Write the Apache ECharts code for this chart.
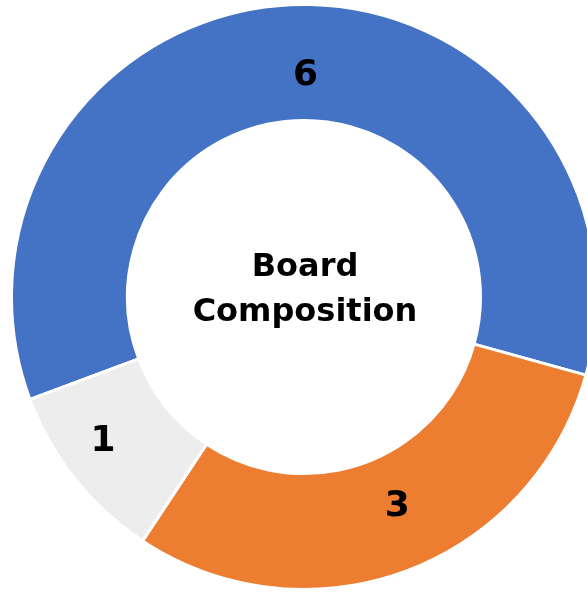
<!DOCTYPE html>
<html>
<head>
<meta charset="utf-8">
<script src="https://cdn.jsdelivr.net/npm/echarts@6/dist/echarts.min.js"></script>
<style>
html,body{margin:0;padding:0;background:#fff;}
#chart{width:587px;height:592px;}
</style>
</head>
<body>
<div id="chart"></div>
<script>
const categories = ['Blue', 'Orange', 'Gray'];
const values = [6, 3, 1];
const colors = ['#4472C4', '#ED7D31', '#EDEDED'];
const centerTitle = 'Board\nComposition';
const labelNudge = [[12, 16], [10, -13], [-15, -3]];

const chart = echarts.init(document.getElementById('chart'), null, {renderer: 'canvas'});
const FONT = '"DejaVu Sans", sans-serif';
chart.setOption({
  animation: false,
  backgroundColor: '#ffffff',
  graphic: [{
    type: 'text',
    x: 305,
    y: 290,
    style: {
      text: centerTitle,
      align: 'center',
      verticalAlign: 'middle',
      font: 'bold 32px ' + FONT,
      lineHeight: 45,
      fill: '#000000'
    }
  }],
  series: [{
    type: 'pie',
    center: [304, 297],
    radius: [176.5, 292.5],
    startAngle: 200.5,
    clockwise: true,
    avoidLabelOverlap: false,
    itemStyle: {borderColor: '#ffffff', borderWidth: 3},
    label: {
      show: true,
      position: 'inside',
      formatter: '{c}',
      color: '#000000',
      fontFamily: FONT,
      fontWeight: 'bold',
      fontSize: 36
    },
    labelLayout: function (p) {
      const n = labelNudge[p.dataIndex] || [0, 0];
      return {dx: n[0], dy: n[1]};
    },
    labelLine: {show: false},
    emphasis: {disabled: true},
    data: categories.map((c, i) => ({name: c, value: values[i], itemStyle: {color: colors[i]}}))
  }]
});
</script>
</body>
</html>
